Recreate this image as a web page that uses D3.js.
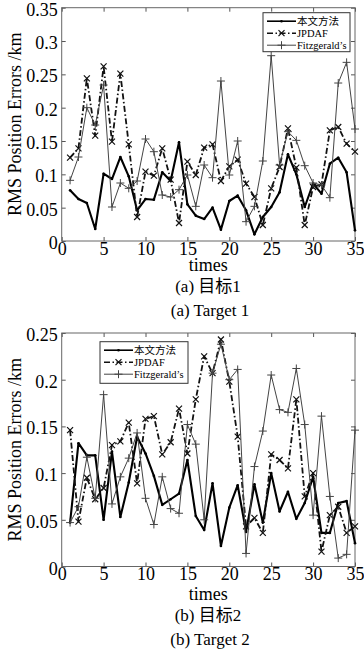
<!DOCTYPE html>
<html>
<head>
<meta charset="utf-8">
<script src="https://cdn.jsdelivr.net/npm/d3@7"></script>
<style>
body { margin: 0; background: #fff; }
svg text { font-family: "Liberation Serif", "Noto Sans CJK SC", serif; fill: #000; }
</style>
</head>
<body>
<svg id="chart" width="364" height="652"></svg>
<script>
// data
const times = [1,2,3,4,5,6,7,8,9,10,11,12,13,14,15,16,17,18,19,20,21,22,23,24,25,26,27,28,29,30,31,32,33,34,35];
const seriesNames = ["本文方法", "JPDAF", "Fitzgerald’s"];

const t1Ours  = [0.076,0.063,0.057,0.018,0.101,0.093,0.126,0.097,0.046,0.063,0.062,0.103,0.090,0.148,0.055,0.038,0.033,0.050,0.017,0.060,0.068,0.046,0.010,0.036,0.051,0.073,0.130,0.100,0.051,0.086,0.071,0.116,0.125,0.103,0.016];
const t1Jpdaf = [0.125,0.139,0.244,0.158,0.262,0.149,0.251,0.145,0.036,0.104,0.098,0.139,0.092,0.027,0.119,0.099,0.140,0.145,0.090,0.112,0.122,0.086,0.066,0.024,0.079,0.111,0.169,0.110,0.024,0.081,0.085,0.166,0.171,0.146,0.134];
const t1Fitz  = [0.091,0.126,0.200,0.174,0.234,0.051,0.087,0.079,0.090,0.153,0.134,0.069,0.066,0.077,0.099,0.052,0.114,0.095,0.240,0.099,0.150,0.029,0.052,0.120,0.278,0.114,0.164,0.151,0.113,0.087,0.084,0.065,0.237,0.268,0.168];

const t2Ours  = [0.047,0.132,0.119,0.119,0.050,0.123,0.053,0.090,0.139,0.121,0.097,0.066,0.072,0.078,0.114,0.054,0.039,0.089,0.022,0.063,0.087,0.037,0.088,0.047,0.100,0.059,0.080,0.051,0.068,0.096,0.036,0.036,0.068,0.070,0.025];
const t2Jpdaf = [0.146,0.048,0.095,0.072,0.084,0.130,0.134,0.154,0.089,0.158,0.161,0.120,0.133,0.169,0.121,0.179,0.225,0.207,0.243,0.198,0.139,0.043,0.052,0.036,0.120,0.114,0.105,0.179,0.075,0.100,0.016,0.055,0.064,0.036,0.043];
const t2Fitz  = [0.047,0.064,0.117,0.073,0.184,0.067,0.096,0.116,0.143,0.073,0.045,0.096,0.062,0.057,0.152,0.131,0.050,0.207,0.238,0.200,0.211,0.014,0.107,0.145,0.205,0.168,0.165,0.212,0.152,0.055,0.161,0.075,0.009,0.013,0.146];

const xTicks = [0,5,10,15,20,25,30,35];
const yTicks1 = [0,0.05,0.1,0.15,0.2,0.25,0.3,0.35];
const yTicks2 = [0,0.05,0.1,0.15,0.2,0.25];

const svg = d3.select("#chart");
const left = 61.7, right = 355;

const styles = [
  { width: 2.1, legendWidth: 1.6, color: "#000", dash: null, marker: "dot" },
  { width: 1.8, legendWidth: 1.5, color: "#111", dash: "6,2.5,1.5,2.5", marker: "x" },
  { width: 1, legendWidth: 1, color: "#444", dash: null, marker: "plus" }
];

const panels = [
  { top: 7.7, bottom: 241, yMax: 0.35, yTicks: yTicks1, data: [t1Ours, t1Jpdaf, t1Fitz],
    cap1: "(a) 目标1", cap2: "(a) Target 1", timesY: 271, cap1Y: 292, cap2Y: 316,
    legend: { x: 263, y: 12.7, w: 87, h: 39 } },
  { top: 333, bottom: 566.5, yMax: 0.25, yTicks: yTicks2, data: [t2Ours, t2Jpdaf, t2Fitz],
    cap1: "(b) 目标2", cap2: "(b) Target 2", timesY: 600, cap1Y: 621, cap2Y: 645,
    legend: { x: 100, y: 341.7, w: 88, h: 41.6 } }
];

function drawMarker(g, cx, cy, type, color) {
  if (type === "dot") {
    g.append("circle").attr("cx", cx).attr("cy", cy).attr("r", 1.3).attr("fill", color);
  } else if (type === "x") {
    g.append("path")
      .attr("d", `M${cx-3},${cy-3}L${cx+3},${cy+3}M${cx-3},${cy+3}L${cx+3},${cy-3}`)
      .attr("stroke", color).attr("stroke-width", 1.2);
  } else {
    g.append("path")
      .attr("d", `M${cx-4},${cy}H${cx+4}M${cx},${cy-4}V${cy+4}`)
      .attr("stroke", color).attr("stroke-width", 1);
  }
}

const fmt = d => String(+d.toFixed(2));

panels.forEach(p => {
  const x = d3.scaleLinear().domain([0, 35]).range([left, right]);
  const y = d3.scaleLinear().domain([0, p.yMax]).range([p.bottom, p.top]);
  const g = svg.append("g");

  // axes with inward ticks on all four sides
  const ax = (axis, tr) => {
    const a = g.append("g").attr("transform", tr).call(axis);
    a.select(".domain").remove();
    a.selectAll("line").attr("stroke", "#555");
    a.selectAll("text").style("font-size", "18px").attr("fill", "#000");
    return a;
  };
  ax(d3.axisBottom(x).tickValues(xTicks).tickSize(-4).tickPadding(1), `translate(0,${p.bottom})`);
  ax(d3.axisTop(x).tickValues(xTicks).tickSize(-4).tickFormat(""), `translate(0,${p.top})`);
  ax(d3.axisLeft(y).tickValues(p.yTicks).tickSize(-4).tickPadding(4).tickFormat(fmt), `translate(${left},0)`)
    .selectAll("text").attr("dy", "0.42em");
  ax(d3.axisRight(y).tickValues(p.yTicks).tickSize(-4).tickFormat(""), `translate(${right},0)`);

  g.append("rect")
    .attr("x", left).attr("y", p.top)
    .attr("width", right - left).attr("height", p.bottom - p.top)
    .attr("fill", "none").attr("stroke", "#666").attr("stroke-width", 1);

  // series
  const line = d3.line().x((d, i) => x(times[i])).y(d => y(d));
  p.data.forEach((vals, k) => {
    const s = styles[k];
    const sg = g.append("g");
    sg.append("path").datum(vals)
      .attr("d", line)
      .attr("fill", "none")
      .attr("stroke", s.color)
      .attr("stroke-width", s.width)
      .attr("stroke-linejoin", "round")
      .attr("stroke-dasharray", s.dash);
    vals.forEach((v, i) => drawMarker(sg, x(times[i]), y(v), s.marker, s.color));
  });

  // legend
  const L = p.legend;
  const lg = g.append("g");
  lg.append("rect").attr("x", L.x).attr("y", L.y).attr("width", L.w).attr("height", L.h)
    .attr("fill", "#fff").attr("stroke", "#333").attr("stroke-width", 1);
  seriesNames.forEach((name, k) => {
    const s = styles[k];
    const ly = L.y + 8.5 + k * 12;
    lg.append("line").attr("x1", L.x + 4).attr("x2", L.x + 33).attr("y1", ly).attr("y2", ly)
      .attr("stroke", s.color).attr("stroke-width", s.legendWidth).attr("stroke-dasharray", s.dash);
    drawMarker(lg, L.x + 18.5, ly, s.marker, s.color);
    lg.append("text").attr("x", L.x + 34).attr("y", ly).attr("dy", "0.35em")
      .style("font-size", "10.5px").text(name);
  });

  // titles
  g.append("text").attr("x", (left + right) / 2).attr("y", p.timesY)
    .attr("text-anchor", "middle").style("font-size", "18px").text("times");
  g.append("text")
    .attr("transform", `translate(21,${(p.top + p.bottom) / 2}) rotate(-90)`)
    .attr("text-anchor", "middle").style("font-size", "18px").text("RMS Position Errors /km");
  svg.append("text").attr("x", 208).attr("y", p.cap1Y)
    .attr("text-anchor", "middle").style("font-size", "17px").text(p.cap1);
  svg.append("text").attr("x", 210).attr("y", p.cap2Y)
    .attr("text-anchor", "middle").style("font-size", "17px").text(p.cap2);
});
</script>
</body>
</html>
